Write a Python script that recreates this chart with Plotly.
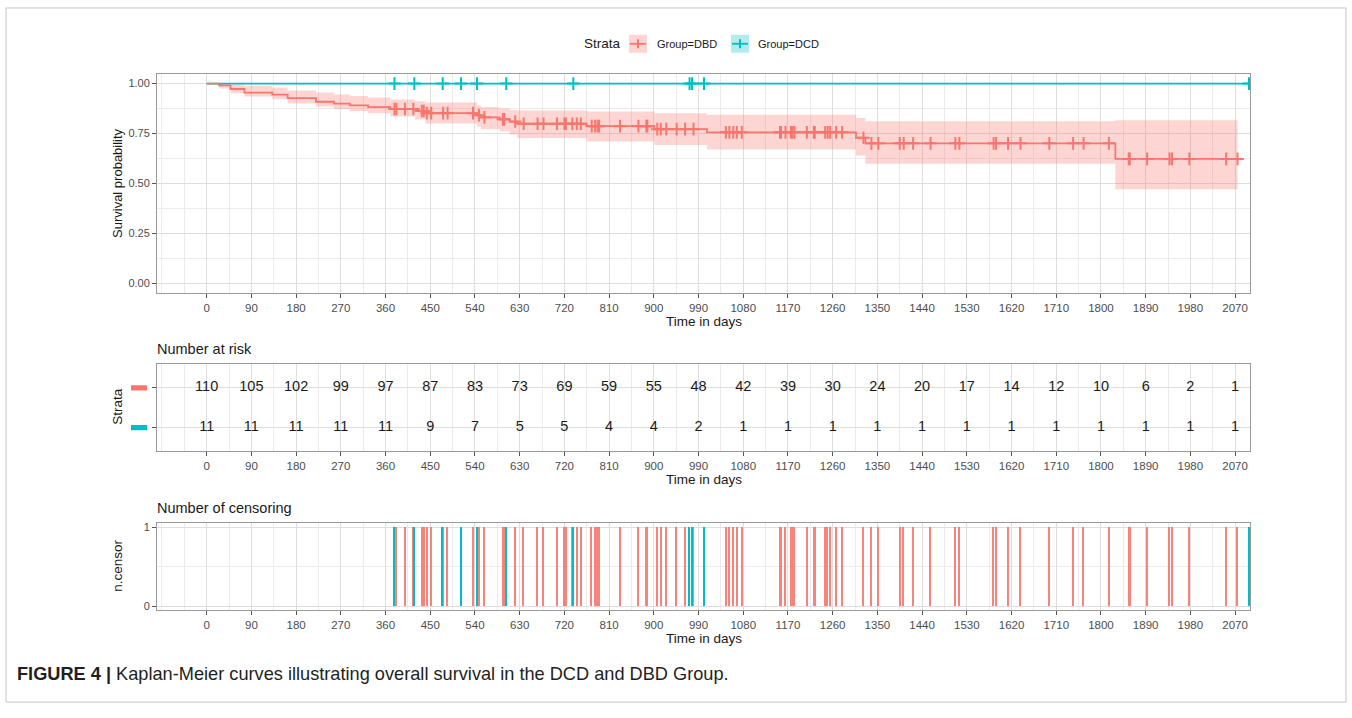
import plotly.graph_objects as go

# ---------------- data ----------------
# DBD Kaplan-Meier step curve (time in days, survival)
dbd_step_time = [0, 25, 48, 76, 132, 163, 220, 256, 288, 325, 370, 420, 440, 544, 552,
                 590, 610, 625, 765, 901, 1007, 1307, 1326, 1829]
dbd_step_surv = [1.0, 0.991, 0.973, 0.955, 0.945, 0.927, 0.909, 0.900, 0.891, 0.882, 0.873,
                 0.863, 0.852, 0.842, 0.831, 0.821, 0.810, 0.799, 0.787, 0.772, 0.756,
                 0.729, 0.701, 0.623]
dbd_upper = [1.0, 1.0, 0.995, 0.988, 0.980, 0.965, 0.955, 0.946, 0.938, 0.930, 0.920,
             0.912, 0.905, 0.890, 0.882, 0.875, 0.868, 0.865, 0.860, 0.852, 0.844,
             0.828, 0.811, 0.816]
dbd_lower = [1.0, 0.975, 0.952, 0.935, 0.922, 0.900, 0.885, 0.872, 0.861, 0.852, 0.835,
             0.820, 0.800, 0.785, 0.772, 0.760, 0.745, 0.728, 0.710, 0.692, 0.670,
             0.640, 0.599, 0.471]
dbd_end = 2075

# DCD curve stays at 1.0
dcd_step_time = [0]
dcd_step_surv = [1.0]
dcd_end = 2098

# censoring times
dbd_censor = [378, 382, 399, 416, 433, 437, 443, 452, 476, 485, 536, 548, 559, 596, 599,
              621, 638, 666, 678, 705, 720, 723, 736, 745, 753, 775, 782, 787, 790, 832,
              869, 885, 887, 907, 914, 925, 946, 963, 980, 1045, 1052, 1060, 1067, 1077,
              1154, 1156, 1165, 1176, 1179, 1183, 1208, 1222, 1224, 1245, 1250, 1255,
              1267, 1279, 1322, 1338, 1352, 1395, 1403, 1422, 1457, 1507, 1515, 1584,
              1589, 1613, 1638, 1696, 1744, 1765, 1816, 1856, 1858, 1893, 1938, 1943,
              1978, 2052, 2075]
dcd_censor = [378, 418, 475, 512, 544, 603, 738, 972, 977, 1001, 2098]

# number at risk table
risk_times = list(range(0, 2071, 90))
risk_dbd = [110, 105, 102, 99, 97, 87, 83, 73, 69, 59, 55, 48, 42, 39, 30, 24, 20, 17,
            14, 12, 10, 6, 2, 1]
risk_dcd = [11, 11, 11, 11, 11, 9, 7, 5, 5, 4, 4, 2, 1, 1, 1, 1, 1, 1, 1, 1, 1, 1, 1, 1]

x_ticks = list(range(0, 2071, 90))
x_minor = [-90] + [t + 45 for t in range(-90, 2071, 90)]
surv_ticks = [0, 0.25, 0.5, 0.75, 1.0]
surv_ticklabels = ["0.00", "0.25", "0.50", "0.75", "1.00"]

# ---------------- styling ----------------
W, H = 1352, 718
RED = "#F8766D"
TEAL = "#00BFC4"
FONT = "Liberation Sans, Arial, sans-serif"
GRID = "#dedede"
MINOR = "#ebebeb"
BORDER = "#9a9a9a"
TICKC = "#4d4d4d"


def px(x):
    return x / W


def py(y):
    return 1 - y / H


def step_lookup(times, vals, t):
    v = vals[0]
    for tt, vv in zip(times, vals):
        if tt <= t:
            v = vv
    return v


fig = go.Figure()

# ---- top panel: KM curves ----
band_x = dbd_step_time + [dbd_end]
fig.add_trace(go.Scatter(x=band_x, y=dbd_lower + [dbd_lower[-1]], mode="lines",
                         line=dict(width=0, shape="hv"), hoverinfo="skip",
                         xaxis="x", yaxis="y"))
fig.add_trace(go.Scatter(x=band_x, y=dbd_upper + [dbd_upper[-1]], mode="lines",
                         line=dict(width=0, shape="hv"), fill="tonexty",
                         fillcolor="rgba(248,118,109,0.30)", hoverinfo="skip",
                         xaxis="x", yaxis="y"))
fig.add_trace(go.Scatter(x=dcd_step_time + [dcd_end], y=dcd_step_surv + [dcd_step_surv[-1]],
                         mode="lines", line=dict(color=TEAL, width=1.8, shape="hv"),
                         xaxis="x", yaxis="y"))
fig.add_trace(go.Scatter(x=band_x, y=dbd_step_surv + [dbd_step_surv[-1]],
                         mode="lines", line=dict(color=RED, width=1.8, shape="hv"),
                         xaxis="x", yaxis="y"))
fig.add_trace(go.Scatter(x=dbd_censor,
                         y=[step_lookup(dbd_step_time, dbd_step_surv, t) for t in dbd_censor],
                         mode="markers",
                         marker=dict(symbol="cross-thin", size=9, line=dict(color=RED, width=2)),
                         xaxis="x", yaxis="y"))
fig.add_trace(go.Scatter(x=dcd_censor,
                         y=[step_lookup(dcd_step_time, dcd_step_surv, t) for t in dcd_censor],
                         mode="markers",
                         marker=dict(symbol="cross-thin", size=9, line=dict(color=TEAL, width=2)),
                         xaxis="x", yaxis="y"))

# ---- middle panel: number at risk ----
fig.add_trace(go.Scatter(x=risk_times, y=[2] * len(risk_times), mode="text",
                         text=[str(v) for v in risk_dbd],
                         textfont=dict(size=14.5, color="#1a1a1a", family=FONT),
                         cliponaxis=False, xaxis="x2", yaxis="y2"))
fig.add_trace(go.Scatter(x=risk_times, y=[1] * len(risk_times), mode="text",
                         text=[str(v) for v in risk_dcd],
                         textfont=dict(size=14.5, color="#1a1a1a", family=FONT),
                         cliponaxis=False, xaxis="x2", yaxis="y2"))

# ---- bottom panel: number of censoring ----
fig.add_trace(go.Bar(x=dbd_censor, y=[1] * len(dbd_censor), width=3,
                     marker=dict(color=RED, line=dict(width=0)), opacity=0.9,
                     xaxis="x3", yaxis="y3"))
fig.add_trace(go.Bar(x=dcd_censor, y=[1] * len(dcd_censor), width=3,
                     marker=dict(color=TEAL, line=dict(width=0)), xaxis="x3", yaxis="y3"))

xdom = [px(157), px(1250)]


def xaxis_cfg(anchor):
    return dict(domain=xdom, range=[-100, 2100], anchor=anchor,
                tickmode="array", tickvals=x_ticks, ticktext=[str(t) for t in x_ticks],
                ticks="outside", ticklen=4, tickcolor="#555", tickwidth=1,
                tickfont=dict(size=11.5, color=TICKC, family=FONT),
                showline=True, mirror=True, linecolor=BORDER, linewidth=1,
                showgrid=True, gridcolor=GRID, gridwidth=1, zeroline=False,
                minor=dict(tickmode="array", tickvals=x_minor, showgrid=True,
                           gridcolor=MINOR, gridwidth=1, ticks=""),
                fixedrange=True)


layout = dict(
    width=W, height=H, autosize=False,
    margin=dict(l=0, r=0, t=0, b=0),
    paper_bgcolor="white", plot_bgcolor="white",
    showlegend=False, barmode="overlay", bargap=0,
    font=dict(family=FONT),
    xaxis=xaxis_cfg("y"),
    xaxis2=xaxis_cfg("y2"),
    xaxis3=xaxis_cfg("y3"),
    yaxis=dict(domain=[py(293), py(72)], range=[-0.05, 1.05], anchor="x",
               tickmode="array", tickvals=surv_ticks, ticktext=surv_ticklabels,
               ticks="outside", ticklen=4, tickcolor="#555",
               tickfont=dict(size=11, color=TICKC, family=FONT),
               showline=True, mirror=True, linecolor=BORDER,
               showgrid=True, gridcolor=GRID, zeroline=False,
               minor=dict(tickmode="array", tickvals=[0.125, 0.375, 0.625, 0.875],
                          showgrid=True, gridcolor=MINOR, ticks="")),
    yaxis2=dict(domain=[py(452), py(364)], range=[0.4, 2.6], anchor="x2",
                tickmode="array", tickvals=[1, 2], showticklabels=False,
                ticks="outside", ticklen=4, tickcolor="#555",
                showline=True, mirror=True, linecolor=BORDER,
                showgrid=True, gridcolor=GRID, zeroline=False),
    yaxis3=dict(domain=[py(611.5), py(524)], range=[-0.05, 1.05], anchor="x3",
                tickmode="array", tickvals=[0, 1], ticktext=["0", "1"],
                ticks="outside", ticklen=4, tickcolor="#555",
                tickfont=dict(size=11, color=TICKC, family=FONT),
                showline=True, mirror=True, linecolor=BORDER,
                showgrid=True, gridcolor=GRID, zeroline=False,
                minor=dict(tickmode="array", tickvals=[0.5], showgrid=True,
                           gridcolor=MINOR, ticks="")),
)
fig.update_layout(**layout)

ann = []


def text(x, y, s, size, color="#1a1a1a", xanchor="center", angle=0):
    ann.append(dict(x=px(x), y=py(y), xref="paper", yref="paper", text=s,
                    showarrow=False, xanchor=xanchor, yanchor="middle",
                    textangle=angle, font=dict(size=size, color=color, family=FONT)))


cx = (157 + 1250) / 2
text(cx, 321, "Time in days", 13.5)
text(cx, 480, "Time in days", 13.5)
text(cx, 640, "Time in days", 13.5)
text(118, 182, "Survival probability", 13, angle=-90)
text(118, 407, "Strata", 13.5, angle=-90)
text(118, 567, "n.censor", 13.5, angle=-90)
text(155, 349, "Number at risk", 14.5, xanchor="left")
text(155, 509, "Number of censoring", 14.5, xanchor="left")
text(582, 42, "Strata", 13.5, xanchor="left")
text(655, 42, "Group=DBD", 11, xanchor="left")
text(756, 42, "Group=DCD", 11, xanchor="left")
ann.append(dict(x=px(15), y=py(676), xref="paper", yref="paper",
                text="<b>FIGURE 4 |</b> Kaplan-Meier curves illustrating overall survival in the DCD and DBD Group.",
                showarrow=False, xanchor="left", yanchor="middle",
                font=dict(size=18.2, color="#231f20", family=FONT)))
fig.update_layout(annotations=ann)

shapes = []
# figure frame
shapes.append(dict(type="rect", xref="paper", yref="paper", x0=px(6), x1=px(1346),
                   y0=py(704), y1=py(6), line=dict(color="#c4c4c4", width=1)))
# legend keys
for x0, col, fill in [(629, RED, "rgba(248,118,109,0.30)"), (731, TEAL, "rgba(0,191,196,0.30)")]:
    shapes.append(dict(type="rect", xref="paper", yref="paper", x0=px(x0), x1=px(x0 + 18),
                       y0=py(51), y1=py(33), fillcolor=fill, line=dict(width=0)))
    shapes.append(dict(type="line", xref="paper", yref="paper", x0=px(x0 + 1), x1=px(x0 + 17),
                       y0=py(42), y1=py(42), line=dict(color=col, width=1.8)))
    shapes.append(dict(type="line", xref="paper", yref="paper", x0=px(x0 + 9), x1=px(x0 + 9),
                       y0=py(37.5), y1=py(46.5), line=dict(color=col, width=2)))
# strata colour keys on the risk table y axis
for yy, col in [(2, RED), (1, TEAL)]:
    shapes.append(dict(type="rect", xref="paper", yref="y2", x0=px(131), x1=px(147),
                       y0=yy - 0.065, y1=yy + 0.065, fillcolor=col, line=dict(width=0)))
fig.update_layout(shapes=shapes)

fig.write_html("out.html")
